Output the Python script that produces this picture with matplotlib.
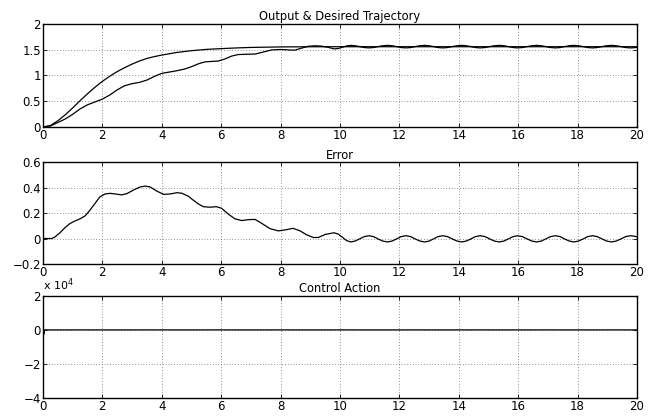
import matplotlib
matplotlib.use("Agg")
import matplotlib.pyplot as plt
from matplotlib.ticker import FuncFormatter

# ---------------- data ----------------
t_des = [0, 0.25, 0.5, 0.75, 1.0, 1.25, 1.5, 1.75, 2.0, 2.25, 2.5, 2.75, 3.0, 3.25,
         3.5, 3.75, 4.0, 4.5, 5.0, 5.5, 6.0, 6.5, 7.0, 8.0, 9.0, 10.0, 20.0]
desired = [0, 0.025, 0.12, 0.235, 0.37, 0.51, 0.645, 0.77, 0.885, 0.985, 1.075, 1.15,
           1.22, 1.28, 1.33, 1.365, 1.395, 1.445, 1.48, 1.505, 1.52, 1.533, 1.543,
           1.553, 1.556, 1.557, 1.557]

t_out = [0, 0.25, 0.5, 0.75, 1.0, 1.25, 1.5, 1.75, 2.0, 2.25, 2.5, 2.75, 3.0, 3.25,
         3.5, 3.75, 4.0, 4.25, 4.5, 4.78, 5.0, 5.23, 5.45, 5.68, 5.9, 6.13, 6.35,
         6.58, 6.8, 7.14, 7.36, 7.7, 8.0, 8.26, 8.48, 8.71, 8.93, 9.15, 9.38, 9.6,
         9.8, 9.94, 10.08, 10.22, 10.36, 10.51, 10.66, 10.82, 10.97, 11.13, 11.28,
         11.44, 11.6, 11.75, 11.91, 12.06, 12.22, 12.38, 12.53, 12.69, 12.85, 13.0,
         13.15, 13.3, 13.46, 13.62, 13.78, 13.94, 14.1, 14.25, 14.41, 14.56, 14.72,
         14.88, 15.04, 15.2, 15.36, 15.52, 15.67, 15.83, 15.98, 16.14, 16.3, 16.46,
         16.62, 16.78, 16.93, 17.09, 17.25, 17.41, 17.56, 17.72, 17.88, 18.03, 18.19,
         18.34, 18.5, 18.66, 18.82, 18.98, 19.14, 19.3, 19.46, 19.62, 19.78, 19.92, 20.0]
output = [0, 0.02, 0.085, 0.155, 0.245, 0.35, 0.43, 0.485, 0.54, 0.62, 0.72, 0.8,
          0.84, 0.865, 0.91, 0.98, 1.04, 1.065, 1.09, 1.125, 1.17, 1.225, 1.262,
          1.272, 1.278, 1.32, 1.375, 1.405, 1.41, 1.415, 1.445, 1.495, 1.503, 1.495,
          1.49, 1.53, 1.565, 1.575, 1.568, 1.545,
          1.515, 1.522, 1.546, 1.572, 1.583, 1.576, 1.559, 1.541, 1.534, 1.541, 1.559,
          1.576, 1.583, 1.576, 1.559, 1.541, 1.534, 1.541, 1.559, 1.576, 1.583, 1.576,
          1.559, 1.541, 1.534, 1.541, 1.559, 1.576, 1.583, 1.576, 1.559, 1.541, 1.534,
          1.541, 1.559, 1.576, 1.583, 1.576, 1.559, 1.541, 1.534, 1.541, 1.559, 1.576,
          1.583, 1.576, 1.559, 1.541, 1.534, 1.541, 1.559, 1.576, 1.583, 1.576, 1.559,
          1.541, 1.534, 1.541, 1.559, 1.576, 1.583, 1.576, 1.559, 1.541, 1.534, 1.538,
          1.544]

t_err = [0.0, 0.3, 0.4, 0.57, 0.74, 0.91, 1.08, 1.25, 1.42, 1.58, 1.75, 1.92, 2.09,
         2.26, 2.43, 2.65, 2.82, 3.04, 3.27, 3.44, 3.61, 3.83, 4.06, 4.28, 4.51, 4.67,
         4.9, 5.0, 5.23, 5.4, 5.62, 5.84, 6.01, 6.24, 6.46, 6.69, 6.91, 7.14, 7.36,
         7.64, 7.92, 8.14, 8.42, 8.65, 8.87, 9.1, 9.27, 9.5, 9.8, 9.94, 10.08, 10.22,
         10.36, 10.51, 10.66, 10.82, 10.97, 11.13, 11.28, 11.44, 11.6, 11.75, 11.91,
         12.06, 12.22, 12.38, 12.53, 12.69, 12.85, 13.0, 13.15, 13.3, 13.46, 13.62,
         13.78, 13.94, 14.1, 14.25, 14.41, 14.56, 14.72, 14.88, 15.04, 15.2, 15.36,
         15.52, 15.67, 15.83, 15.98, 16.14, 16.3, 16.46, 16.62, 16.78, 16.93, 17.09,
         17.25, 17.41, 17.56, 17.72, 17.88, 18.03, 18.19, 18.34, 18.5, 18.66, 18.82,
         18.98, 19.14, 19.3, 19.46, 19.62, 19.78, 19.92, 20.0]
error = [0.0, 0.0, 0.012, 0.045, 0.085, 0.118, 0.138, 0.155, 0.178, 0.222, 0.275,
         0.328, 0.35, 0.355, 0.35, 0.343, 0.352, 0.38, 0.405, 0.412, 0.405, 0.373,
         0.347, 0.35, 0.36, 0.356, 0.332, 0.312, 0.272, 0.25, 0.246, 0.25, 0.238,
         0.192, 0.155, 0.141, 0.148, 0.15, 0.12, 0.078, 0.06, 0.067, 0.08, 0.061,
         0.03, 0.008, 0.008, 0.032, 0.045, 0.035, 0.01, -0.016,
         -0.027, -0.02, -0.003, 0.015, 0.022, 0.015, -0.003, -0.02,
         -0.027, -0.02, -0.003, 0.015, 0.022, 0.015, -0.003, -0.02,
         -0.027, -0.02, -0.003, 0.015, 0.022, 0.015, -0.003, -0.02,
         -0.027, -0.02, -0.003, 0.015, 0.022, 0.015, -0.003, -0.02,
         -0.027, -0.02, -0.003, 0.015, 0.022, 0.015, -0.003, -0.02,
         -0.027, -0.02, -0.003, 0.015, 0.022, 0.015, -0.003, -0.02,
         -0.027, -0.02, -0.003, 0.015, 0.022, 0.015, -0.003, -0.02,
         -0.027, -0.02, -0.003, 0.015, 0.022, 0.018, 0.013]

t_ctrl = [0.0, 0.01, 0.03, 0.05, 20.0]
control = [-35000, 0, -2500, 0, 0]

titles = ["Output & Desired Trajectory", "Error", "Control Action"]
x_ticks = [0, 2, 4, 6, 8, 10, 12, 14, 16, 18, 20]
y_ticks_out = [0, 0.5, 1, 1.5, 2]
y_ticks_err = [-0.2, 0, 0.2, 0.4, 0.6]
y_ticks_ctrl = [-40000, -20000, 0, 20000]

# ---------------- figure ----------------
plt.rcParams['font.family'] = ['DejaVu Sans']
fig = plt.figure(figsize=(6.55, 4.19), dpi=100)

L, W = 0.0656, 0.9069
ax1 = fig.add_axes([L, 0.697, W, 0.246])
ax2 = fig.add_axes([L, 0.370, W, 0.243])
ax3 = fig.add_axes([L, 0.050, W, 0.244])

def style(ax, yticks, ylim, title):
    ax.set_xlim(0, 20)
    ax.set_ylim(*ylim)
    ax.set_xticks(x_ticks)
    ax.set_yticks(yticks)
    ax.grid(True, linestyle=(0, (1, 3)), color='#333333', linewidth=0.5)
    ax.tick_params(direction='in', top=True, right=True, labelsize=8.5,
                   length=3, width=0.6, pad=1.5)
    for s in ax.spines.values():
        s.set_linewidth(1.0)
    ax.set_title(title, fontsize=8.3, pad=2.5)

ax1.plot(t_des, desired, color='black', linewidth=0.9)
ax1.plot(t_out, output, color='black', linewidth=0.9)
style(ax1, y_ticks_out, (0, 2), titles[0])
ax1.yaxis.set_major_formatter(FuncFormatter(lambda v, p: f"{v:g}"))

ax2.plot(t_err, error, color='black', linewidth=0.9)
style(ax2, y_ticks_err, (-0.2, 0.6), titles[1])
ax2.yaxis.set_major_formatter(FuncFormatter(lambda v, p: f"{v:g}".replace('-', '\u2212')))

ax3.plot(t_ctrl, control, color='black', linewidth=0.9)
style(ax3, y_ticks_ctrl, (-40000, 20000), titles[2])
ax3.yaxis.set_major_formatter(FuncFormatter(lambda v, p: f"{v/1e4:g}".replace('-', '\u2212')))
ax3.text(0.0, 1.025, "x 10$^{4}$", transform=ax3.transAxes, fontsize=8,
         ha='left', va='bottom')

fig.savefig("out.png", dpi=100)
